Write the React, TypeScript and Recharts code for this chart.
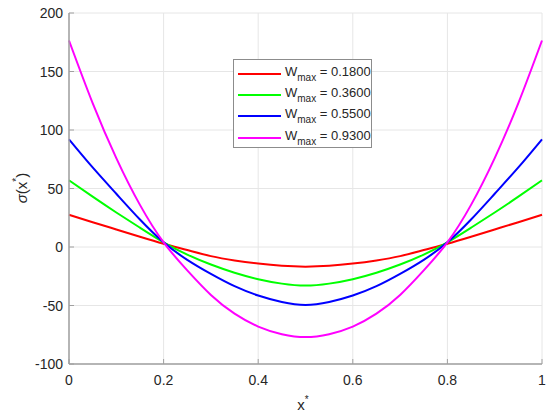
import { LineChart, Line, XAxis, YAxis, CartesianGrid, Legend } from "recharts";

// x* positions
const xValues = [
  0, 0.05, 0.1, 0.15, 0.2, 0.25, 0.3, 0.35, 0.4, 0.45, 0.5, 0.55, 0.6, 0.65,
  0.7, 0.75, 0.8, 0.85, 0.9, 0.95, 1,
];

// sigma(x*) for each W_max
const sigmaW018 = [
  27.5, 21.2, 15.0, 8.8, 2.8, -2.6, -7.8, -11.5, -14.2, -16.1, -16.8, -16.1,
  -14.2, -11.5, -7.8, -2.6, 2.8, 8.8, 15.0, 21.2, 27.5,
];
const sigmaW036 = [
  57, 43, 29.5, 16.5, 4, -6.5, -15, -22, -27.5, -31.3, -33, -31.3, -27.5, -22,
  -15, -6.5, 4, 16.5, 29.5, 43, 57,
];
const sigmaW055 = [
  92, 68, 45.5, 23.5, 4, -11, -23, -33.5, -41.5, -47, -49.5, -47, -41.5, -33.5,
  -23, -11, 4, 23.5, 45.5, 68, 92,
];
const sigmaW093 = [
  176.5, 123, 76, 36, 4, -20, -41, -57, -68, -74.5, -77, -74.5, -68, -57,
  -41, -20, 4, 36, 76, 123, 176.5,
];

const xTicks = [0, 0.2, 0.4, 0.6, 0.8, 1];
const yTicks = [-100, -50, 0, 50, 100, 150, 200];
const legendValues = ["0.1800", "0.3600", "0.5500", "0.9300"];
const seriesKeys = ["w018", "w036", "w055", "w093"];
const seriesColors = ["#ff0000", "#00ff00", "#0000ff", "#ff00ff"];

const data = xValues.map((x, i) => ({
  x,
  w018: sigmaW018[i],
  w036: sigmaW036[i],
  w055: sigmaW055[i],
  w093: sigmaW093[i],
}));

const FONT = "'Liberation Sans', Arial, sans-serif";
const AXIS = "#a0a0a0";
const TEXT = "#262626";

function XTick(props: any) {
  const { x, y, payload } = props;
  return (
    <g>
      <line x1={x} x2={x} y1={y} y2={y - 5} stroke={AXIS} />
      <text x={x} y={y + 21} textAnchor="middle" fontSize={14} fontFamily={FONT} fill={TEXT}>
        {String(payload.value)}
      </text>
    </g>
  );
}

function YTick(props: any) {
  const { x, y, payload } = props;
  return (
    <g>
      <line x1={x} x2={x + 5} y1={y} y2={y} stroke={AXIS} />
      <text x={x - 6} y={y + 5} textAnchor="end" fontSize={14} fontFamily={FONT} fill={TEXT}>
        {String(payload.value)}
      </text>
    </g>
  );
}

function LegendBox(props: any) {
  const items = props.payload || [];
  return (
    <div
      style={{
        width: 139,
        height: 89,
        border: "1px solid #8c8c8c",
        background: "#fff",
        boxSizing: "border-box",
        paddingTop: 3,
        fontFamily: FONT,
        fontSize: 13,
        color: TEXT,
      }}
    >
      {items.map((entry: any, i: number) => (
        <div
          key={i}
          style={{ display: "flex", alignItems: "center", height: 21.4, overflow: "visible" }}
        >
          <div
            style={{
              width: 43,
              flexShrink: 0,
              height: 2,
              background: entry.color,
              marginLeft: 4,
              marginRight: 4,
            }}
          />
          <span style={{ whiteSpace: "nowrap", lineHeight: "13px", position: "relative", top: -2 }}>
            W
            <span style={{ fontSize: 10, position: "relative", top: 5 }}>max</span> = {entry.value}
          </span>
        </div>
      ))}
    </div>
  );
}

export default function App() {
  return (
    <div style={{ position: "absolute", left: 0, top: 0, width: 550, height: 416, background: "#fff" }}>
      <LineChart
        width={550}
        height={416}
        data={data}
        margin={{ top: 13, right: 8, bottom: 22, left: 0 }}
      >
        <CartesianGrid stroke="#e6e6e6" strokeWidth={1} />
        <XAxis
          dataKey="x"
          type="number"
          domain={[0, 1]}
          ticks={xTicks}
          tickLine={false}
          tickSize={0}
          tickMargin={0}
          height={30}
          axisLine={{ stroke: AXIS, strokeWidth: 1.5 }}
          tick={<XTick />}
          label={{
            content: () => (
              <text x={303} y={410} textAnchor="middle" fontSize={15} fontFamily={FONT} fill={TEXT}>
                x<tspan dy={-7} fontSize={10}>*</tspan>
              </text>
            ),
          }}
        />
        <YAxis
          type="number"
          domain={[-100, 200]}
          ticks={yTicks}
          width={69}
          tickLine={false}
          tickSize={0}
          tickMargin={0}
          axisLine={{ stroke: AXIS, strokeWidth: 1.5 }}
          tick={<YTick />}
          label={{
            content: () => (
              <text
                x={27}
                y={188}
                transform="rotate(-90 27 188)"
                textAnchor="middle"
                fontSize={15}
                fontFamily={FONT}
                fill={TEXT}
              >
                <tspan fontStyle="italic">σ</tspan>(x<tspan dy={-7} fontSize={10}>*</tspan>
                <tspan dy={7}>)</tspan>
              </text>
            ),
          }}
        />
        <Legend
          layout="vertical"
          align="center"
          verticalAlign="middle"
          content={<LegendBox />}
          wrapperStyle={{ position: "absolute", left: 233, top: 59, width: 139, height: 89 }}
        />
        {seriesKeys.map((key, i) => (
          <Line
            key={key}
            type="natural"
            dataKey={key}
            name={legendValues[i]}
            stroke={seriesColors[i]}
            strokeWidth={2}
            dot={false}
            isAnimationActive={false}
          />
        ))}
      </LineChart>
    </div>
  );
}
